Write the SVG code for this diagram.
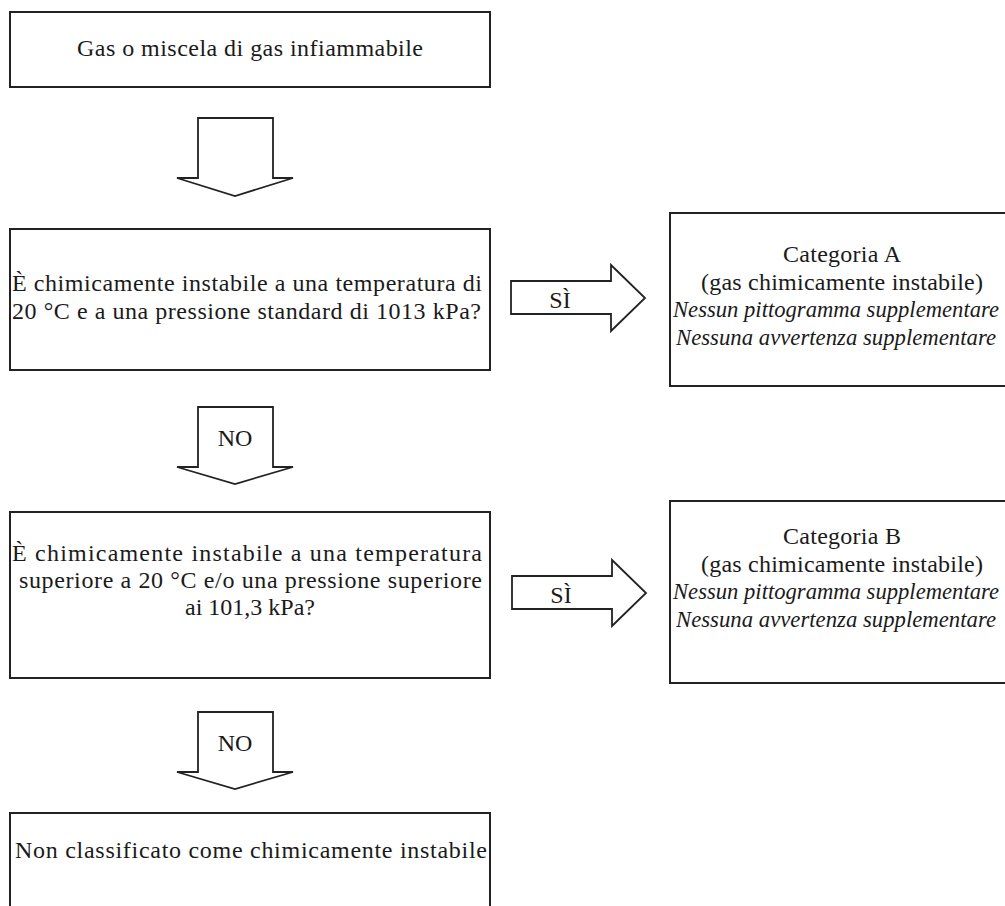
<svg xmlns="http://www.w3.org/2000/svg" width="1005" height="906" viewBox="0 0 1005 906">
<style>
.box{fill:#fff;stroke:#222;stroke-width:2}
.arr{fill:#fff;stroke:#222;stroke-width:1.8;stroke-linejoin:miter}
text{font-family:"Liberation Serif","Times New Roman",serif;font-size:24px;fill:#1a1a1a}
.c{text-anchor:middle}
.i{font-style:italic;font-size:23px}
</style>
<rect width="1005" height="906" fill="#fff"/>
<g id="connectors">
<g id="arrow-start"><polygon class="arr" points="198,118 273,118 273,178 293,178 235,196 177,178 198,178"/></g>
<g id="arrow-no1"><polygon class="arr" points="198,407 273,407 273,467 293,467 235,484 177,467 198,467"/><text class="c" x="235" y="446">NO</text></g>
<g id="arrow-no2"><polygon class="arr" points="198,712 273,712 273,772 293,772 235,789 177,772 198,772"/><text class="c" x="235" y="751">NO</text></g>
<g id="arrow-si1"><polygon class="arr" points="511,281 611,281 611,265 645,298 611,331 611,314 511,314"/><text class="c" x="560" y="308">SÌ</text></g>
<g id="arrow-si2"><polygon class="arr" points="512,576 612,576 612,560 646,593 612,626 612,609 512,609"/><text class="c" x="561" y="603">SÌ</text></g>
</g>
<g id="node-start">
<rect class="box" x="10" y="12" width="480" height="75"/>
<text class="c" x="250" y="56" textLength="346" lengthAdjust="spacing">Gas o miscela di gas infiammabile</text>
</g>
<g id="node-q1">
<rect class="box" x="10" y="229" width="480" height="141"/>
<text x="12" y="291" textLength="470" lengthAdjust="spacing">È chimicamente instabile a una temperatura di</text>
<text x="12" y="319" textLength="469" lengthAdjust="spacing">20 °C e a una pressione standard di 1013 kPa?</text>
</g>
<g id="node-q2">
<rect class="box" x="10" y="512" width="480" height="166"/>
<text x="12" y="561" textLength="470" lengthAdjust="spacing">È chimicamente instabile a una temperatura</text>
<text x="19" y="588" textLength="463" lengthAdjust="spacing">superiore a 20 °C e/o una pressione superiore</text>
<text class="c" x="250" y="615">ai 101,3 kPa?</text>
</g>
<g id="node-catA">
<rect class="box" x="670" y="213" width="345" height="173"/>
<text class="c" x="842" y="262" textLength="118" lengthAdjust="spacing">Categoria A</text>
<text class="c" x="842" y="290" textLength="282" lengthAdjust="spacing">(gas chimicamente instabile)</text>
<text class="c i" x="836" y="317" textLength="326" lengthAdjust="spacingAndGlyphs">Nessun pittogramma supplementare</text>
<text class="c i" x="836" y="345" textLength="320" lengthAdjust="spacingAndGlyphs">Nessuna avvertenza supplementare</text>
</g>
<g id="node-catB">
<rect class="box" x="670" y="501" width="345" height="182"/>
<text class="c" x="842" y="544" textLength="118" lengthAdjust="spacing">Categoria B</text>
<text class="c" x="842" y="572" textLength="282" lengthAdjust="spacing">(gas chimicamente instabile)</text>
<text class="c i" x="836" y="599" textLength="326" lengthAdjust="spacingAndGlyphs">Nessun pittogramma supplementare</text>
<text class="c i" x="836" y="627" textLength="320" lengthAdjust="spacingAndGlyphs">Nessuna avvertenza supplementare</text>
</g>
<g id="node-end">
<rect class="box" x="10" y="813" width="480" height="110"/>
<text class="c" x="251" y="858" textLength="472" lengthAdjust="spacing">Non classificato come chimicamente instabile</text>
</g>
</svg>
